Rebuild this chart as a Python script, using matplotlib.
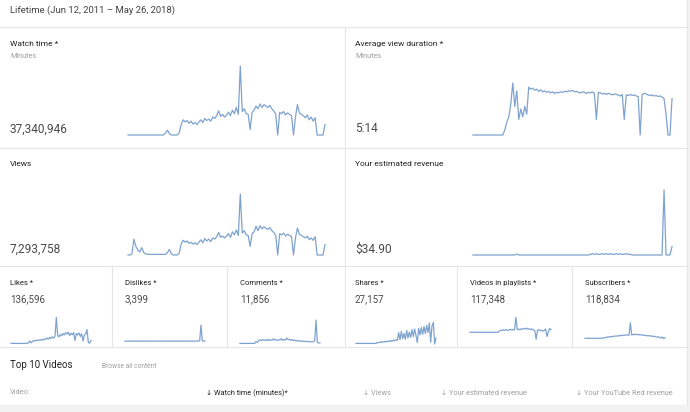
import matplotlib.pyplot as plt
from matplotlib.lines import Line2D
from matplotlib.patches import Rectangle

plt.rcParams['font.family'] = ['Roboto', 'DejaVu Sans']

W, H = 690, 412
BLUE = '#7fa3cf'
GRID = '#e6e6e6'

header = 'Lifetime (Jun 12, 2011 \u2013 May 26, 2018)'

big_titles = ['Watch time *', 'Average view duration *', 'Views', 'Your estimated revenue']
big_units = ['Minutes', 'Minutes', '', '']
big_totals = ['37,340,946', '5:14', '7,293,758', '$34.90']

small_titles = ['Likes *', 'Dislikes *', 'Comments *', 'Shares *',
                'Videos in playlists *', 'Subscribers *']
small_totals = ['136,596', '3,399', '11,856', '27,157', '117,348', '118,834']

table_cols = ['Video', '\u2193 Watch time (minutes)*', '\u2193 Views',
              '\u2193 Your estimated revenue', '\u2193 Your YouTube Red revenue']

watch_time = [0] * 19 + [
    3, 7, 2, 0, 0, 0, 0, 3, 15, 22, 19, 21, 17, 20, 16, 18, 15, 19, 22, 18,
    24, 21, 23, 20, 26, 24, 28, 35, 27, 30, 26, 29, 33, 28, 36, 31, 40, 30, 100, 34,
    38, 31, 30, 8, 33, 36, 42, 38, 45, 40, 44, 42, 40, 43, 38, 35, 30, 0, 33, 31,
    34, 29, 32, 30, 28, 0, 26, 44, 32, 30, 28, 25, 29, 22, 26, 20, 25, 0, 0, 0,
    0, 15]

views = [0, 0, 2, 26, 14, 8, 5, 12, 4, 2] + [1] * 10 + [
    4, 9, 2, 0, 0, 0, 3, 18, 24, 21, 23, 19, 21, 18, 20, 17, 21, 25, 20, 27,
    23, 26, 22, 28, 26, 30, 37, 29, 31, 28, 31, 35, 29, 38, 33, 41, 32, 100, 36, 40,
    33, 32, 14, 35, 38, 47, 40, 48, 43, 46, 44, 42, 45, 40, 37, 32, 0, 35, 33, 36,
    31, 34, 32, 30, 0, 28, 44, 34, 32, 30, 28, 31, 25, 28, 24, 30, 0, 0, 0, 0,
    17]

avg_duration = [0] * 16 + [
    10, 25, 35, 60, 100, 55, 85, 30, 50, 35, 55, 40, 92, 88, 90, 86, 88, 84, 87, 83,
    85, 82, 84, 81, 83, 80, 82, 81, 83, 82, 84, 83, 85, 84, 86, 83, 84, 82, 81, 83,
    82, 80, 82, 81, 83, 80, 30, 82, 81, 79, 80, 78, 80, 79, 77, 79, 78, 77, 75, 78,
    30, 77, 76, 78, 76, 77, 75, 74, 0, 78, 80, 79, 77, 76, 77, 75, 76, 74, 75, 73,
    70, 40, 0, 0, 70]

revenue = [0] * 22 + [1.5] + [0] * 36 + [
    1, 2, 1, 2, 1, 1, 2, 1, 2, 1, 2, 1, 1, 2, 1, 2, 1, 1, 2, 1, 1] + [0] * 16 + [
    100, 0, 0, 0, 13]

likes = [2] * 12 + [
    3, 3, 10, 4, 8, 12, 10, 13, 11, 14, 12, 15, 13, 17, 15, 20, 16, 22, 18, 24,
    20, 25, 89, 28, 24, 32, 27, 35, 30, 38, 33, 40, 28, 36, 31, 38, 12, 35, 30, 37,
    25, 34, 10, 30, 33, 48, 5, 3, 12]

dislikes = [9, 10, 9, 10, 10, 9, 10, 9, 10, 10, 9, 10, 9, 10, 10, 9, 10, 9, 10, 10,
            9, 10, 9, 10, 10, 9, 10, 9, 10, 10, 9, 10, 9, 10, 10, 9, 10, 9, 10, 10,
            9, 10, 9, 10, 10, 9, 10, 9, 10, 10, 9, 10, 9, 10, 10, 10, 11, 63, 10, 10,
            10]

comments = [2] * 12 + [
    8, 5, 12, 14, 11, 15, 12, 14, 11, 16, 12, 14, 12, 17, 13, 15, 12, 14, 13, 18,
    12, 15, 13, 20, 14, 16, 12, 15, 11, 13, 10, 12, 9, 11, 9, 10, 8, 9, 8, 9,
    7, 8, 7, 8, 10, 80, 6, 3, 4]

shares = [2] * 16 + [
    5, 4, 7, 5, 8, 6, 9, 7, 10, 8, 12, 9, 13, 10, 15, 12, 38, 14, 42, 18,
    35, 16, 45, 20, 40, 22, 48, 25, 50, 28, 5, 52, 30, 55, 32, 58, 35, 62, 38, 70,
    6, 60, 72, 0, 20]

playlists = [39] * 22 + [
    44, 46, 45, 47, 46, 48, 45, 47, 49, 46, 48, 47, 89, 48, 50, 47, 51, 49, 52, 50,
    53, 49, 51, 48, 50, 47, 45, 16, 46, 48, 44, 46, 43, 45, 50, 25, 40, 52, 48]

subscribers = [19] * 14 + [
    20, 22, 21, 24, 23, 25, 24, 26, 25, 27, 26, 28, 27, 29, 28, 30, 29, 31, 30, 29,
    71, 30, 32, 31, 33, 31, 32, 30, 31, 29, 30, 28, 29, 27, 28, 26, 27, 25, 26, 24,
    23, 24, 22, 20, 23, 18, 21]

big_series = [watch_time, avg_duration, views, revenue]
small_series = [likes, dislikes, comments, shares, playlists, subscribers]

fig = plt.figure(figsize=(W / 100, H / 100), dpi=100)
fig.patch.set_facecolor('white')


def fx(x):
    return x / W


def fy(y):
    return 1 - y / H


def line(x0, y0, x1, y1, color=GRID):
    fig.add_artist(Line2D([fx(x0), fx(x1)], [fy(y0), fy(y1)], color=color, lw=0.8))


def text(x, y, s, size, color='#212121', **kw):
    fig.text(fx(x), fy(y), s, fontsize=size, color=color, va='center', ha='left', **kw)


def spark(values, x0, x1, ybase, ytop):
    ax = fig.add_axes([fx(x0), fy(ybase), (x1 - x0) / W, (ybase - ytop) / H])
    ax.plot(range(len(values)), values, color=BLUE, lw=0.9, clip_on=False)
    ax.set_xlim(0, len(values) - 1)
    ax.set_ylim(0, 100)
    ax.axis('off')


# page background bits
fig.add_artist(Rectangle((fx(0), 0), 1, fy(405), transform=fig.transFigure,
                         color='#f2f2f2', zorder=0))
fig.add_artist(Rectangle((fx(687), 0), 1, 1, transform=fig.transFigure,
                         color='#f2f2f2', zorder=0))

# grid lines between the cards
line(0, 27, 687, 27)
line(0, 148, 687, 148)
line(0, 266, 687, 266)
line(0, 347, 687, 347)
line(345, 27, 345, 266)
for xd in [112, 227, 345, 457, 572]:
    line(xd, 266, xd, 347)
line(687, 0, 687, 405)

text(10, 10, header, 6.8, '#424242')

# big cards
big_pos = [(0, 28), (345, 28), (0, 148), (345, 148)]
big_spark = [(128, 325, 135, 66), (473, 672, 135, 83),
             (128, 325, 255, 194), (473, 672, 255, 190)]
for i in range(4):
    x, y = big_pos[i]
    text(x + 10, y + 16, big_titles[i], 6.0)
    if big_units[i]:
        text(x + 10, y + 29, big_units[i], 5.2, '#9e9e9e')
    text(x + 10, y + 101, big_totals[i], 8.6, '#4a4a4a')
    spark(big_series[i], *big_spark[i])

# small cards
small_x = [0, 115, 230, 345, 460, 575]
small_spark = [(11, 91), (125, 205), (240, 320), (356, 436), (470, 551), (585, 665)]
for i in range(6):
    text(small_x[i] + 10, 283, small_titles[i], 5.5)
    text(small_x[i] + 10, 299, small_totals[i], 7.0, '#4a4a4a')
    x0, x1 = small_spark[i]
    spark(small_series[i], x0, x1, 344, 314)

# top videos table
text(10, 365, 'Top 10 Videos', 7.0)
text(102, 366, 'Browse all content', 4.8, '#9e9e9e')
col_x = [10, 206, 363, 441, 576]
for i in range(5):
    text(col_x[i], 393, table_cols[i], 5.3, '#212121' if i == 1 else '#9e9e9e')

fig.savefig('out.png', dpi=100)
